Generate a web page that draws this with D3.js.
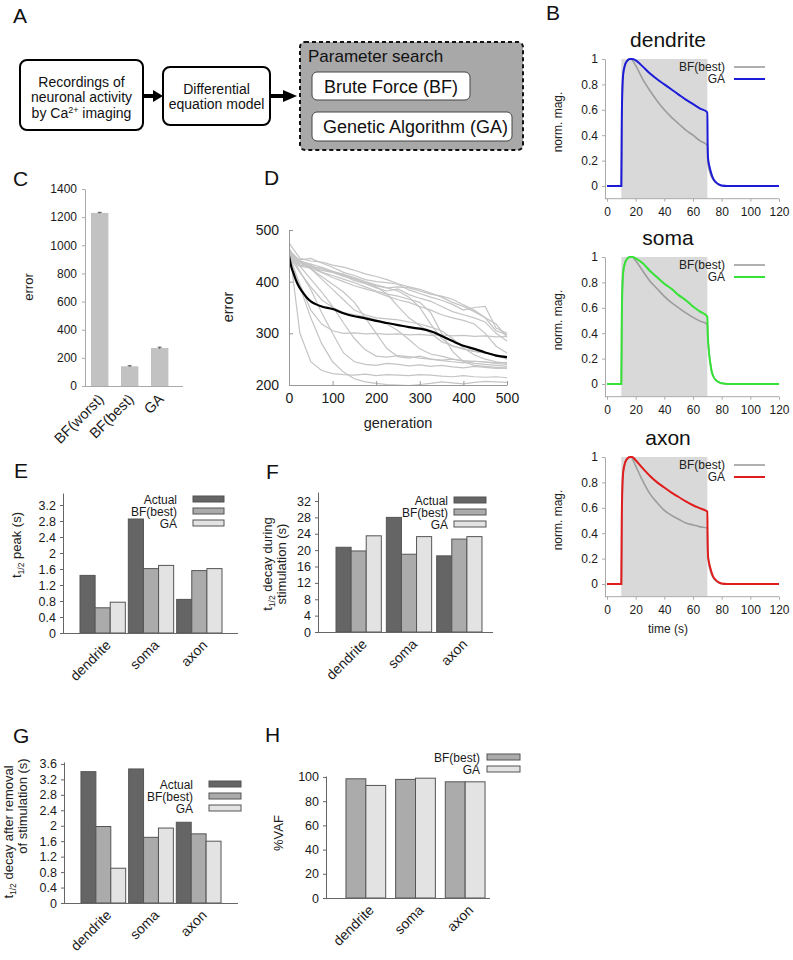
<!DOCTYPE html>
<html><head><meta charset="utf-8">
<script src="https://cdn.jsdelivr.net/npm/d3@7"></script>
<style>body{margin:0;background:#fff;}</style>
</head><body>
<script>
// ---------------- DATA ----------------
// Panel B (time in s, normalized magnitude)
const bTitles = ["dendrite", "soma", "axon"];
const bGAColors = ["#1c1cd8", "#36e236", "#e01c1c"];
const bTimeTicks = [0, 20, 40, 60, 80, 100, 120];
const bMagTicks = [0, 0.2, 0.4, 0.6, 0.8, 1];
const bStimWindow = [10, 70];
const dendriteBF = [[0,0],[10,0],[10.3,0.5],[10.7,0.75],[11.3,0.88],[12.5,0.95],[14,0.985],[16,1],[17,1],[18,0.985],[20,0.95],[25,0.84],[30,0.75],[35,0.67],[40,0.6],[45,0.54],[50,0.49],[55,0.44],[60,0.4],[65,0.355],[70,0.32],[70.3,0.2],[71,0.14],[72,0.1],[74,0.05],[76,0.025],[78,0.01],[81,0],[120,0]];
const dendriteGA = [[0,0],[10,0],[10.3,0.5],[10.7,0.75],[11.3,0.88],[12.5,0.95],[14,0.985],[16,1],[17.5,1],[20,0.99],[25,0.94],[30,0.885],[35,0.84],[40,0.8],[45,0.76],[50,0.72],[55,0.68],[60,0.645],[65,0.61],[70,0.58],[70.2,0.35],[70.5,0.22],[71,0.18],[72,0.13],[73,0.09],[74,0.06],[76,0.03],[78,0.012],[80,0.004],[84,0],[120,0]];
const somaBF = [[0,0],[10,0],[10.3,0.5],[10.7,0.75],[11.3,0.88],[12.5,0.95],[14,0.985],[16,1],[17.5,1],[20,0.97],[25,0.89],[30,0.81],[35,0.75],[40,0.69],[45,0.64],[50,0.6],[55,0.56],[60,0.525],[65,0.495],[70,0.47],[70.3,0.38],[71,0.27],[72,0.17],[73,0.1],[74,0.065],[76,0.03],[78,0.015],[80,0.006],[85,0],[120,0]];
const somaGA = [[0,0],[10,0],[10.3,0.5],[10.7,0.75],[11.3,0.88],[12.5,0.95],[14,0.985],[16,1],[18,1],[20,0.99],[25,0.95],[30,0.89],[35,0.84],[40,0.79],[45,0.75],[50,0.7],[55,0.66],[60,0.61],[65,0.57],[70,0.53],[70.3,0.4],[71,0.27],[72,0.17],[73,0.1],[74,0.065],[76,0.03],[78,0.015],[80,0.006],[85,0],[120,0]];
const axonBF = [[0,0],[10,0],[10.3,0.5],[10.7,0.75],[11.3,0.88],[12.5,0.95],[14,0.985],[16,1],[17,1],[18,0.98],[20,0.93],[25,0.81],[30,0.71],[35,0.64],[40,0.58],[45,0.54],[50,0.51],[55,0.48],[60,0.465],[65,0.45],[70,0.44],[70.3,0.25],[71,0.16],[72,0.11],[74,0.05],[76,0.025],[78,0.01],[81,0],[120,0]];
const axonGA = [[0,0],[10,0],[10.3,0.5],[10.7,0.75],[11.3,0.88],[12.5,0.95],[14,0.985],[16,1],[17.5,1],[20,0.975],[25,0.91],[30,0.85],[35,0.8],[40,0.76],[45,0.72],[50,0.685],[55,0.65],[60,0.62],[65,0.595],[70,0.57],[70.2,0.35],[70.5,0.22],[71,0.18],[72,0.13],[73,0.09],[74,0.06],[76,0.03],[78,0.012],[80,0.004],[84,0],[120,0]];
const bBF = [dendriteBF, somaBF, axonBF];
const bGA = [dendriteGA, somaGA, axonGA];

// Panel C
const cCategories = ["BF(worst)", "BF(best)", "GA"];
const cValues = [1230, 140, 270];
const cErrors = [4, 4, 6];
const cTicks = [0, 200, 400, 600, 800, 1000, 1200, 1400];

// Panel D
const dGenerations = [0,25,50,75,100,125,150,175,200,225,250,275,300,325,350,375,400,425,450,475,500];
const dRuns = [
  [470,300,245,228,222,220,219,221,218,220,219,218,220,219,217,216,218,216,215,216,214],
  [455,390,330,280,245,225,212,206,203,201,200,199,201,203,206,204,202,205,207,206,205],
  [460,420,385,340,300,262,245,240,238,242,240,237,239,236,238,235,233,236,234,232,233],
  [450,395,345,318,305,300,301,299,300,298,299,297,298,296,297,295,296,294,295,293,294],
  [465,430,405,380,352,320,290,268,256,254,257,255,252,250,248,250,247,246,245,243,244],
  [448,438,425,410,395,380,360,330,300,270,255,252,256,250,247,245,243,246,244,242,240],
  [455,440,432,418,412,405,398,390,382,376,372,366,360,340,300,265,245,238,236,234,232],
  [475,445,440,438,432,428,422,415,410,404,396,390,385,378,370,360,352,342,330,305,297],
  [450,442,445,436,428,418,412,404,400,398,395,384,377,370,364,356,345,350,352,310,300],
  [460,438,430,425,420,412,402,396,388,382,386,375,368,362,352,342,336,330,322,300,285],
  [445,430,426,418,408,400,392,386,380,372,365,360,352,345,336,330,325,318,300,275,262],
  [452,435,428,422,418,410,406,398,392,388,382,370,350,318,290,275,270,265,262,258,255],
  [458,440,434,428,420,414,405,398,390,376,352,330,315,300,284,276,270,265,262,258,250],
  [462,440,425,405,385,365,345,336,330,328,326,322,318,312,305,290,272,258,250,245,242],
  [450,418,390,365,350,340,336,332,326,318,305,288,270,260,256,250,246,242,240,238,236],
  [448,432,428,426,418,414,408,400,394,388,390,388,382,376,372,366,355,345,330,318,292]
];
const dMeanGenerations = [0,5,10,15,20,30,40,50,60,75,100,125,150,175,200,225,250,275,300,325,350,375,400,425,450,475,500];
const dMeanValues = [450,430,417,405,395,381,370,362,357,352,347,339,333,329,324,320,316,312,309,304,295,285,276,270,263,257,254];
const dXTicks = [0, 100, 200, 300, 400, 500];
const dYTicks = [200, 300, 400, 500];

// Panels E-H
const regions = ["dendrite", "soma", "axon"];
const seriesNames = ["Actual", "BF(best)", "GA"];
const seriesColors = ["#656565", "#ababab", "#e3e3e3"];
const ePeakActual = [1.44, 2.85, 0.84];
const ePeakBF = [0.63, 1.61, 1.56];
const ePeakGA = [0.77, 1.69, 1.61];
const eTicks = [0, 0.4, 0.8, 1.2, 1.6, 2, 2.4, 2.8, 3.2];
const fDecayActual = [20.7, 28.0, 18.6];
const fDecayBF = [19.8, 19.0, 22.7];
const fDecayGA = [23.5, 23.3, 23.3];
const fTicks = [0, 4, 8, 12, 16, 20, 24, 28, 32];
const gRemovalActual = [3.40, 3.47, 2.09];
const gRemovalBF = [1.98, 1.70, 1.79];
const gRemovalGA = [0.90, 1.94, 1.60];
const gTicks = [0, 0.4, 0.8, 1.2, 1.6, 2, 2.4, 2.8, 3.2, 3.6];
const hVafBF = [98.5, 98.0, 96.0];
const hVafGA = [93.0, 99.0, 96.0];
const hTicks = [0, 20, 40, 60, 80, 100];

// ---------------- DRAWING ----------------
const FONT = '"Liberation Sans", Arial, Helvetica, sans-serif';
const svg = d3.select("body").append("svg").attr("width", 793).attr("height", 960)
  .style("font-family", FONT);

function letter(t, x, y) {
  svg.append("text").attr("x", x).attr("y", y).attr("font-size", 21).attr("fill", "#111").text(t);
}
letter("A", 13, 23); letter("B", 546, 20); letter("C", 13, 186); letter("D", 264, 185);
letter("E", 14, 478); letter("F", 266, 479); letter("G", 13, 743); letter("H", 265, 742);

// ---- Panel A ----
(function () {
  const g = svg.append("g");
  g.append("rect").attr("x", 20).attr("y", 60).attr("width", 123).attr("height", 70).attr("rx", 7)
    .attr("fill", "#fff").attr("stroke", "#000").attr("stroke-width", 2);
  const t1 = g.append("text").attr("text-anchor", "middle").attr("font-size", 14).attr("fill", "#111");
  t1.append("tspan").attr("x", 81.5).attr("y", 87).text("Recordings of");
  t1.append("tspan").attr("x", 81.5).attr("y", 102).text("neuronal activity");
  const l3 = g.append("text").attr("text-anchor", "middle").attr("font-size", 14).attr("fill", "#111")
    .attr("x", 81.5).attr("y", 118);
  l3.append("tspan").text("by Ca");
  l3.append("tspan").attr("font-size", 9).attr("dy", -5).text("2+");
  l3.append("tspan").attr("dy", 5).text(" imaging");

  g.append("rect").attr("x", 163).attr("y", 67).attr("width", 107).attr("height", 58).attr("rx", 7)
    .attr("fill", "#fff").attr("stroke", "#000").attr("stroke-width", 2);
  const t2 = g.append("text").attr("text-anchor", "middle").attr("font-size", 14).attr("fill", "#111");
  t2.append("tspan").attr("x", 216.5).attr("y", 94).text("Differential");
  t2.append("tspan").attr("x", 216.5).attr("y", 109).text("equation model");

  // arrows
  [[143, 153, 163], [270, 283, 297]].forEach(([a, b, c]) => {
    g.append("line").attr("x1", a).attr("x2", b + 1).attr("y1", 96).attr("y2", 96)
      .attr("stroke", "#000").attr("stroke-width", 4);
    g.append("path").attr("d", `M${b},90 L${c},96 L${b},102 Z`).attr("fill", "#000");
  });

  g.append("rect").attr("x", 300).attr("y", 42).attr("width", 223).attr("height", 108).attr("rx", 5)
    .attr("fill", "#a8a8a8").attr("stroke", "#111").attr("stroke-width", 2).attr("stroke-dasharray", "4,3");
  g.append("text").attr("x", 308).attr("y", 62).attr("font-size", 17).attr("fill", "#111").text("Parameter search");
  g.append("rect").attr("x", 312).attr("y", 72).attr("width", 158).attr("height", 28).attr("rx", 5)
    .attr("fill", "#fff").attr("stroke", "#444").attr("stroke-width", 1);
  g.append("text").attr("x", 324).attr("y", 93).attr("font-size", 18).attr("fill", "#111").text("Brute Force (BF)");
  g.append("rect").attr("x", 312).attr("y", 112).attr("width", 200).attr("height", 29).attr("rx", 5)
    .attr("fill", "#fff").attr("stroke", "#444").attr("stroke-width", 1);
  g.append("text").attr("x", 323).attr("y", 133).attr("font-size", 18).attr("fill", "#111").text("Genetic Algorithm (GA)");
})();

function styleAxis(sel, color, fs) {
  sel.selectAll("path.domain").attr("stroke", color).attr("stroke-width", 1);
  sel.selectAll(".tick line").attr("stroke", color);
  sel.selectAll(".tick text").attr("font-size", fs).attr("fill", "#1a1a1a").style("font-family", FONT);
}

// ---- Panel B ----
(function () {
  const offsets = [0, 198, 398];
  const x = d3.scaleLinear().domain([0, 120]).range([607, 779]);
  bTitles.forEach((title, i) => {
    const off = offsets[i];
    const y = d3.scaleLinear().domain([-0.1, 1]).range([198.7 + off, 59 + off]);
    const g = svg.append("g");
    g.append("rect").attr("x", x(bStimWindow[0])).attr("y", y(1))
      .attr("width", x(bStimWindow[1]) - x(bStimWindow[0])).attr("height", y(-0.1) - y(1))
      .attr("fill", "#d9d9d9");
    const ya = g.append("g").attr("transform", "translate(605,0)")
      .call(d3.axisLeft(y).tickValues(bMagTicks).tickSize(3).tickSizeOuter(0).tickPadding(4).tickFormat(d => String(d)));
    styleAxis(ya, "#aaa", 12);
    const xa = g.append("g").attr("transform", `translate(0,${y(-0.1)})`)
      .call(d3.axisBottom(x).tickValues(bTimeTicks).tickSize(3).tickSizeOuter(0).tickPadding(6));
    xa.select("path.domain").attr("d", `M605,0H779`);
    styleAxis(xa, "#aaa", 12);
    const line = d3.line().x(d => x(d[0])).y(d => y(d[1])).curve(d3.curveMonotoneX);
    g.append("path").datum(bBF[i]).attr("d", line).attr("fill", "none").attr("stroke", "#9c9c9c").attr("stroke-width", 1.6);
    g.append("path").datum(bGA[i]).attr("d", line).attr("fill", "none").attr("stroke", bGAColors[i]).attr("stroke-width", 2);
    g.append("text").attr("x", 668).attr("y", 47 + off).attr("text-anchor", "middle").attr("font-size", 21).attr("fill", "#111").text(title);
    // legend
    g.append("text").attr("x", 725).attr("y", 71 + off).attr("text-anchor", "end").attr("font-size", 12).attr("fill", "#222").text("BF(best)");
    g.append("line").attr("x1", 734).attr("x2", 765).attr("y1", 67 + off).attr("y2", 67 + off).attr("stroke", "#9c9c9c").attr("stroke-width", 1.6);
    g.append("text").attr("x", 725).attr("y", 83 + off).attr("text-anchor", "end").attr("font-size", 12).attr("fill", "#222").text("GA");
    g.append("line").attr("x1", 734).attr("x2", 765).attr("y1", 79 + off).attr("y2", 79 + off).attr("stroke", bGAColors[i]).attr("stroke-width", 2);
    g.append("text").attr("transform", `translate(562,${122 + off}) rotate(-90)`).attr("text-anchor", "middle")
      .attr("font-size", 12).attr("fill", "#222").text("norm. mag.");
  });
  svg.append("text").attr("x", 668).attr("y", 633).attr("text-anchor", "middle").attr("font-size", 12).attr("fill", "#222").text("time (s)");
})();

// ---- Panel C ----
(function () {
  const y = d3.scaleLinear().domain([0, 1400]).range([386, 189]);
  const x = d3.scaleBand().domain(cCategories).range([82, 177.4]).paddingInner(0.42).paddingOuter(0.3);
  const g = svg.append("g");
  cCategories.forEach((c, i) => {
    g.append("rect").attr("x", x(c)).attr("y", y(cValues[i])).attr("width", x.bandwidth())
      .attr("height", 386 - y(cValues[i])).attr("fill", "#c2c2c2");
    const cx = x(c) + x.bandwidth() / 2;
    g.append("line").attr("x1", cx).attr("x2", cx).attr("y1", y(cValues[i] + cErrors[i])).attr("y2", y(cValues[i] - cErrors[i])).attr("stroke", "#555");
    g.append("line").attr("x1", cx - 2).attr("x2", cx + 2).attr("y1", y(cValues[i] + cErrors[i])).attr("y2", y(cValues[i] + cErrors[i])).attr("stroke", "#555");
    g.append("text").attr("transform", `translate(${cx + 5},${400}) rotate(-45)`).attr("text-anchor", "end")
      .attr("font-size", 14.5).attr("fill", "#1a1a1a").text(c);
  });
  const ya = g.append("g").attr("transform", "translate(85,0)")
    .call(d3.axisLeft(y).tickValues(cTicks).tickSize(3).tickSizeOuter(0).tickPadding(5).tickFormat(d3.format("d")));
  styleAxis(ya, "#aaa", 12);
  g.append("line").attr("x1", 85).attr("x2", 183).attr("y1", 386.5).attr("y2", 386.5).attr("stroke", "#aaa");
  g.append("text").attr("transform", "translate(33,287) rotate(-90)").attr("text-anchor", "middle")
    .attr("font-size", 13).attr("fill", "#222").text("error");
})();

// ---- Panel D ----
(function () {
  const x = d3.scaleLinear().domain([0, 500]).range([289, 507]);
  const y = d3.scaleLinear().domain([200, 500]).range([385, 230]);
  const g = svg.append("g");
  svg.append("clipPath").attr("id", "dclip").append("rect").attr("x", 289).attr("y", 228).attr("width", 220).attr("height", 157);
  const line = d3.line().x(d => x(d[0])).y(d => y(d[1]));
  const lg = g.append("g").attr("clip-path", "url(#dclip)");
  dRuns.forEach(run => {
    lg.append("path").datum(run.map((v, i) => [dGenerations[i], v])).attr("d", line)
      .attr("fill", "none").attr("stroke", "#c4c4c4").attr("stroke-width", 1.2);
  });
  lg.append("path").datum(dMeanValues.map((v, i) => [dMeanGenerations[i], v])).attr("d", line.curve(d3.curveMonotoneX))
    .attr("fill", "none").attr("stroke", "#000").attr("stroke-width", 2.2);
  const ya = g.append("g").attr("transform", "translate(289,0)")
    .call(d3.axisLeft(y).tickValues(dYTicks).tickSize(-4).tickSizeOuter(0).tickPadding(10));
  styleAxis(ya, "#999", 14);
  const xa = g.append("g").attr("transform", "translate(0,385)")
    .call(d3.axisBottom(x).tickValues(dXTicks).tickSize(-4).tickSizeOuter(0).tickPadding(8));
  styleAxis(xa, "#999", 14);
  g.append("text").attr("x", 398).attr("y", 428).attr("text-anchor", "middle").attr("font-size", 14.5).attr("fill", "#222").text("generation");
  g.append("text").attr("transform", "translate(233,307) rotate(-90)").attr("text-anchor", "middle")
    .attr("font-size", 14.5).attr("fill", "#222").text("error");
})();

// ---- Bar panels E-H ----
function barPanel(o) {
  const y = d3.scaleLinear().domain([0, o.yMax]).range([o.y0, o.yTop]);
  const xb = d3.scaleBand().domain(regions).range(o.bandRange).paddingInner(o.pad).paddingOuter(o.pad / 2);
  const xs = d3.scaleBand().domain(o.names).range([0, xb.bandwidth()]);
  const g = svg.append("g");
  regions.forEach((c, ci) => {
    o.series.forEach((vals, si) => {
      g.append("rect").attr("x", xb(c) + xs(o.names[si])).attr("y", y(vals[ci]))
        .attr("width", xs.bandwidth()).attr("height", o.y0 - y(vals[ci]))
        .attr("fill", o.colors[si]).attr("stroke", "#555").attr("stroke-width", 1);
    });
    const cx = xb(c) + xb.bandwidth() / 2;
    g.append("text").attr("transform", `translate(${cx + 9},${o.y0 + 13}) rotate(-45)`).attr("text-anchor", "end")
      .attr("font-size", 14).attr("fill", "#1a1a1a").text(c);
  });
  const ya = g.append("g").attr("transform", `translate(${o.axisX},0)`)
    .call(d3.axisLeft(y).tickValues(o.ticks).tickSize(3).tickSizeOuter(0).tickPadding(4)
      .tickFormat(d => String(+d.toFixed(1))));
  styleAxis(ya, "#666", 12.5);
  g.append("line").attr("x1", o.axisX).attr("x2", o.xEnd).attr("y1", o.y0 + 0.5).attr("y2", o.y0 + 0.5).attr("stroke", "#666");
  o.names.forEach((n, i) => {
    const by = o.leg.y + i * 12;
    g.append("text").attr("x", o.leg.x).attr("y", by).attr("text-anchor", "end").attr("font-size", 12).attr("fill", "#1a1a1a").text(n);
    g.append("rect").attr("x", o.leg.sx).attr("y", by - 8).attr("width", o.leg.sw).attr("height", 6)
      .attr("fill", o.colors[i]).attr("stroke", "#555").attr("stroke-width", 1);
  });
  return g;
}
function sublabel(x, y, pre, sub, post) {
  const t = svg.append("text").attr("transform", `translate(${x},${y}) rotate(-90)`).attr("text-anchor", "middle")
    .attr("font-size", 13).attr("fill", "#222");
  t.append("tspan").text(pre);
  t.append("tspan").attr("font-size", 8.5).attr("dy", 3).text(sub);
  t.append("tspan").attr("dy", -3).text(post);
  return t;
}

barPanel({ y0: 633, yTop: 493, yMax: 3.5, ticks: eTicks, axisX: 63, xEnd: 238,
  bandRange: [78.5, 223.5], pad: 0.062, names: seriesNames, colors: seriesColors,
  series: [ePeakActual, ePeakBF, ePeakGA], leg: { x: 177, y: 504, sx: 193, sw: 31 } });
sublabel(21, 545, "t", "1/2", " peak (s)");

barPanel({ y0: 632, yTop: 492, yMax: 34.2, ticks: fTicks, axisX: 318, xEnd: 493,
  bandRange: [333.5, 484.5], pad: 0.1, names: seriesNames, colors: seriesColors,
  series: [fDecayActual, fDecayBF, fDecayGA], leg: { x: 448, y: 505, sx: 454, sw: 32 } });
sublabel(272, 564, "t", "1/2", " decay during");
svg.append("text").attr("transform", "translate(286,564) rotate(-90)").attr("text-anchor", "middle")
  .attr("font-size", 13).attr("fill", "#222").text("stimulation (s)");

barPanel({ y0: 903, yTop: 762, yMax: 3.65, ticks: gTicks, axisX: 64, xEnd: 238,
  bandRange: [79.5, 222.5], pad: 0.062, names: seriesNames, colors: seriesColors,
  series: [gRemovalActual, gRemovalBF, gRemovalGA], leg: { x: 193, y: 789, sx: 209, sw: 32 } });
sublabel(13, 832, "t", "1/2", " decay after removal");
svg.append("text").attr("transform", "translate(27,806) rotate(-90)").attr("text-anchor", "middle")
  .attr("font-size", 13).attr("fill", "#222").text("of stimulation (s)");

barPanel({ y0: 898, yTop: 776, yMax: 100.8, ticks: hTicks, axisX: 326, xEnd: 490,
  bandRange: [341, 490], pad: 0.2, names: ["BF(best)", "GA"], colors: [seriesColors[1], seriesColors[2]],
  series: [hVafBF, hVafGA], leg: { x: 480, y: 762, sx: 487, sw: 33 } });
svg.append("text").attr("transform", "translate(283,833) rotate(-90)").attr("text-anchor", "middle")
  .attr("font-size", 13).attr("fill", "#222").text("%VAF");
</script>
</body></html>
